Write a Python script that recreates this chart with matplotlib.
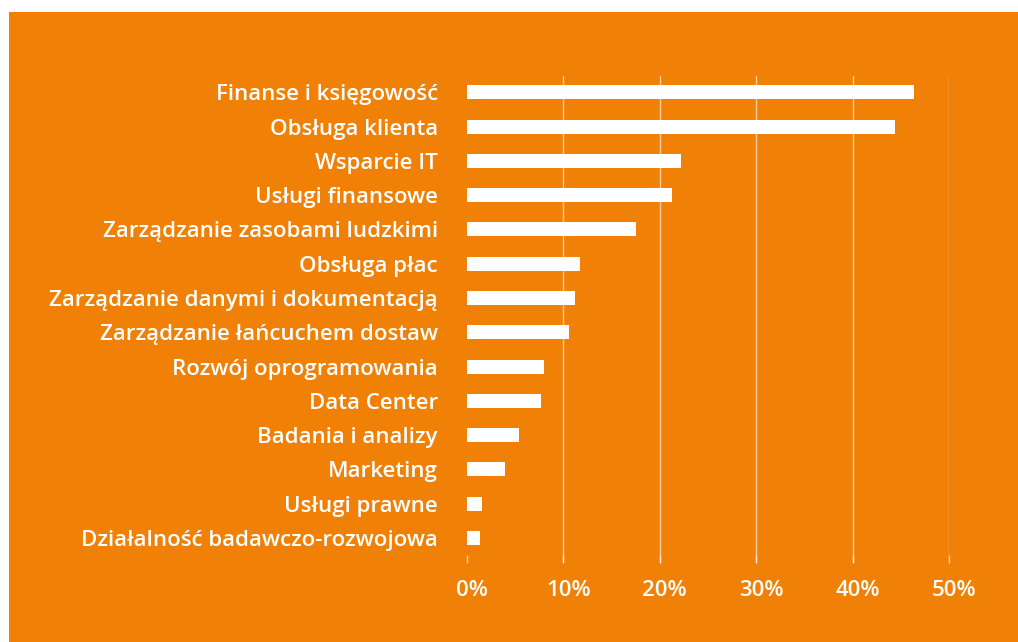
import matplotlib.pyplot as plt
from matplotlib.patches import Rectangle
from matplotlib.transforms import ScaledTranslation
import numpy as np

categories = [
    "Finanse i księgowość",
    "Obsługa klienta",
    "Wsparcie IT",
    "Usługi finansowe",
    "Zarządzanie zasobami ludzkimi",
    "Obsługa płac",
    "Zarządzanie danymi i dokumentacją",
    "Zarządzanie łańcuchem dostaw",
    "Rozwój oprogramowania",
    "Data Center",
    "Badania i analizy",
    "Marketing",
    "Usługi prawne",
    "Działalność badawczo-rozwojowa",
]
values = [46.4, 44.4, 22.2, 21.3, 17.5, 11.75, 11.2, 10.6, 7.95, 7.7, 5.4, 3.9, 1.6, 1.35]
ticks = [0, 10, 20, 30, 40, 50]
tick_labels = ["0%", "10%", "20%", "30%", "40%", "50%"]

orange = "#F08106"
plt.rcParams['font.family'] = ['Open Sans', 'DejaVu Sans']

fig = plt.figure(figsize=(10.18, 6.42), dpi=100, facecolor="white")
# orange panel (white margin top and left)
fig.patches.append(Rectangle((9 / 1018, 0), 1 - 9 / 1018, 1 - 12 / 642,
                             transform=fig.transFigure, facecolor=orange,
                             edgecolor="none", zorder=-10))

ax = fig.add_axes([467 / 1018, 1 - 563 / 642, (949 - 467) / 1018, (563 - 76) / 642])
ax.set_facecolor("none")
ax.set_zorder(5)

y_pos = np.arange(len(categories))
ax.barh(y_pos, values, height=0.41, color="white", edgecolor="none", zorder=3)

ax.set_xlim(0, 50)
ax.set_ylim(len(categories) - 1 + 0.73, -0.475)

ax.set_yticks(y_pos)
ax.set_yticklabels(categories, color="white", fontsize=16, fontweight="semibold")
ax.tick_params(axis="y", length=0, pad=21)

ax.set_xticks(ticks)
ax.set_xticklabels(tick_labels, color="white", fontsize=16, fontweight="semibold")
ax.tick_params(axis="x", direction="in", length=6, width=1,
               color=(1, 1, 1, 0.6), pad=12)
# labels sit a little right of their ticks in the original
offset = ScaledTranslation(5 / 100, 0, fig.dpi_scale_trans)
for lbl in ax.get_xticklabels():
    lbl.set_transform(lbl.get_transform() + offset)

ax.grid(axis="x", color="white", alpha=0.6, linewidth=1, zorder=1)
ax.xaxis.get_gridlines()[0].set_visible(False)
ax.set_axisbelow(True)

for s in ax.spines.values():
    s.set_visible(False)

fig.savefig("out.png", dpi=100, facecolor="white")
